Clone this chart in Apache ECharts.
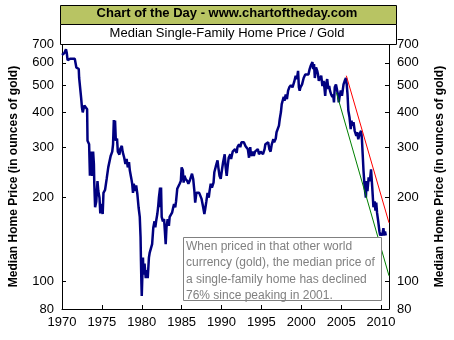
<!DOCTYPE html>
<html>
<head>
<meta charset="utf-8">
<script src="https://cdn.jsdelivr.net/npm/echarts@6/dist/echarts.min.js"></script>
<style>
  html, body { margin: 0; padding: 0; background: #fff; }
  #chart { width: 454px; height: 340px; }
</style>
</head>
<body>
<div id="chart"></div>
<script>
// Median single-family home price expressed in ounces of gold
const years = [
  1970.0, 1970.3, 1970.5, 1970.6, 1970.7, 1971.0, 1971.2, 1971.6, 1971.8, 1972.1,
  1972.15, 1972.3, 1972.4, 1972.5, 1972.6, 1972.8, 1973.0, 1973.15, 1973.2, 1973.4,
  1973.5, 1973.6, 1973.8, 1973.9, 1974.0, 1974.05, 1974.15, 1974.3, 1974.45, 1974.55,
  1974.7, 1974.8, 1975.0, 1975.1, 1975.2, 1975.4, 1975.6, 1975.8, 1975.9, 1976.1,
  1976.3, 1976.4, 1976.5, 1976.6, 1976.65, 1976.75, 1976.9, 1977.0, 1977.2, 1977.3,
  1977.5, 1977.6, 1977.8, 1977.95, 1978.1, 1978.25, 1978.4, 1978.5, 1978.7, 1978.8,
  1978.9, 1979.0, 1979.15, 1979.3, 1979.45, 1979.6, 1979.75, 1979.85, 1979.9, 1979.96,
  1980.0, 1980.08, 1980.15, 1980.22, 1980.35, 1980.5, 1980.6, 1980.75, 1980.9, 1981.0,
  1981.15, 1981.3, 1981.45, 1981.6, 1981.7, 1981.8, 1981.95, 1982.05, 1982.15, 1982.3,
  1982.35, 1982.42, 1982.5, 1982.65, 1982.8, 1982.9, 1983.0, 1983.1, 1983.25, 1983.4,
  1983.5, 1983.65, 1983.8, 1983.95, 1984.05, 1984.2, 1984.3, 1984.45, 1984.6, 1984.75,
  1984.9, 1985.0, 1985.15, 1985.25, 1985.35, 1985.5, 1985.7, 1985.85, 1986.0, 1986.15,
  1986.3, 1986.45, 1986.6, 1986.7, 1986.85, 1987.0, 1987.2, 1987.35, 1987.5, 1987.7,
  1987.85, 1987.95, 1988.1, 1988.25, 1988.4, 1988.5, 1988.65, 1988.8, 1989.0, 1989.1,
  1989.3, 1989.5, 1989.6, 1989.75, 1989.9, 1990.05, 1990.2, 1990.4, 1990.5, 1990.65,
  1990.8, 1990.9, 1991.1, 1991.2, 1991.4, 1991.55, 1991.7, 1991.9, 1992.0, 1992.2,
  1992.35, 1992.5, 1992.7, 1992.8, 1993.0, 1993.2, 1993.3, 1993.45, 1993.6, 1993.7,
  1993.9, 1994.05, 1994.2, 1994.4, 1994.55, 1994.7, 1994.9, 1995.0, 1995.2, 1995.4,
  1995.5, 1995.7, 1995.85, 1996.0, 1996.15, 1996.3, 1996.5, 1996.6, 1996.8, 1996.9,
  1997.05, 1997.2, 1997.3, 1997.45, 1997.55, 1997.7, 1997.8, 1997.9, 1998.05, 1998.2,
  1998.35, 1998.5, 1998.7, 1998.9, 1999.1, 1999.3, 1999.45, 1999.6, 1999.7, 1999.8,
  1999.9, 2000.1, 2000.3, 2000.5, 2000.7, 2000.9, 2001.05, 2001.2, 2001.4, 2001.5,
  2001.6, 2001.7, 2001.85, 2002.0, 2002.1, 2002.2, 2002.35, 2002.5, 2002.65, 2002.8,
  2002.9, 2003.0, 2003.1, 2003.25, 2003.4, 2003.5, 2003.6, 2003.75, 2003.9, 2004.0,
  2004.1, 2004.2, 2004.35, 2004.5, 2004.6, 2004.7, 2004.8, 2004.95, 2005.1, 2005.2,
  2005.3, 2005.45, 2005.6, 2005.7, 2005.8, 2005.9, 2006.05, 2006.2, 2006.3, 2006.4,
  2006.55, 2006.7, 2006.8, 2006.9, 2007.0, 2007.15, 2007.3, 2007.4, 2007.5, 2007.6,
  2007.7, 2007.8, 2007.95, 2008.1, 2008.2, 2008.3, 2008.45, 2008.6, 2008.75, 2008.85,
  2008.9, 2009.05, 2009.2, 2009.3, 2009.4, 2009.5, 2009.65, 2009.8, 2009.9, 2010.0,
  2010.15, 2010.3, 2010.4, 2010.5, 2010.6
];
const priceInGold = [
  640, 650, 670, 650, 614, 620, 625, 620, 578, 570,
  530, 525, 450, 417, 400, 423, 417, 410, 317, 308,
  238, 290, 238, 290, 262, 223, 184, 193, 228, 210,
  199, 175, 189, 174, 207, 212, 232, 255, 258, 280,
  290, 308, 376, 317, 374, 317, 323, 290, 283, 296,
  304, 290, 276, 262, 273, 255, 266, 249, 232, 223,
  207, 223, 210, 220, 205, 184, 170, 144, 119, 98,
  89, 106, 122, 106, 116, 103, 110, 103, 122, 127,
  125, 136, 156, 164, 156, 164, 174, 184, 199, 216,
  184, 216, 170, 164, 167, 151, 136, 156, 167, 158,
  170, 172, 176, 184, 189, 184, 193, 214, 216, 223,
  228, 255, 249, 225, 238, 232, 228, 223, 228, 235,
  242, 232, 210, 191, 207, 204, 207, 204, 197, 184,
  174, 181, 193, 207, 199, 210, 223, 216, 225, 245,
  258, 270, 255, 238, 232, 249, 266, 284, 258, 238,
  262, 276, 284, 273, 290, 287, 296, 287, 301, 308,
  301, 313, 308, 313, 304, 308, 296, 276, 301, 280,
  290, 280, 290, 287, 296, 284, 290, 287, 284, 296,
  308, 304, 313, 296, 290, 308, 321, 313, 323, 340,
  344, 359, 378, 401, 428, 434, 454, 440, 463, 446,
  478, 491, 500, 491, 512, 540, 525, 562, 491, 478,
  491, 503, 530, 545, 548, 545, 570, 587, 604, 570,
  594, 530, 578, 562, 545, 518, 530, 540, 496, 518,
  491, 458, 503, 525, 484, 496, 478, 463, 454, 463,
  434, 491, 503, 496, 463, 434, 454, 478, 458, 454,
  503, 518, 530, 503, 463, 406, 384, 349, 374, 359,
  369, 344, 349, 330, 340, 321, 335, 330, 344, 323,
  284, 249, 216, 199, 228, 210, 235, 228, 251, 249,
  216, 184, 193, 179, 191, 176, 164, 151, 146, 149,
  146, 155, 146, 151, 146
];

// Two trend lines drawn across the post-peak decline
const upperTrendYears = [2005.65, 2011];
const upperTrendValues = [540, 162];
const lowerTrendYears = [2004.4, 2011];
const lowerTrendValues = [471, 105];

// Axis ticks
const yTickValues = [80, 100, 200, 300, 400, 500, 600, 700];
const xTickValues = [1970, 1975, 1980, 1985, 1990, 1995, 2000, 2005, 2010];

const headerTitle = 'Chart of the Day - www.chartoftheday.com';
const chartTitle = 'Median Single-Family Home Price / Gold';
const axisTitle = 'Median Home Price (in ounces of gold)';
const noteLines = [
  'When priced in that other world',
  'currency (gold), the median price of',
  'a single-family home has declined',
  '76% since peaking in 2001.'
];

const FONT = '"Liberation Sans", Arial, sans-serif';
const zip = (xs, ys) => xs.map((x, i) => [x, ys[i]]);

function yAxisDef(position, gap) {
  return {
    type: 'log',
    logBase: 10,
    min: 80,
    max: 700,
    position: position,
    name: axisTitle,
    nameLocation: 'middle',
    nameGap: gap,
    nameRotate: 90,
    nameTextStyle: { fontFamily: FONT, fontSize: 12, fontWeight: 'bold', color: '#000' },
    axisLine: { show: true, lineStyle: { color: '#000', width: 1 } },
    axisTick: { show: true, inside: true, length: 4, customValues: yTickValues, lineStyle: { color: '#000' } },
    axisLabel: { customValues: yTickValues, fontFamily: FONT, fontSize: 13, color: '#000', margin: 8 },
    splitLine: { show: false },
    minorTick: { show: false }
  };
}

const chart = echarts.init(document.getElementById('chart'), null, { renderer: 'canvas' });
chart.setOption({
  animation: false,
  backgroundColor: '#fff',
  grid: { left: 60, right: 58, top: 44, bottom: 31, containLabel: false },
  xAxis: {
    type: 'value',
    min: 1970,
    max: 2011,
    axisLine: { show: true, onZero: false, lineStyle: { color: '#000', width: 1 } },
    axisTick: { show: true, inside: true, length: 4, customValues: xTickValues, lineStyle: { color: '#000' } },
    axisLabel: {
      customValues: xTickValues,
      formatter: (v) => String(Math.round(v)),
      fontFamily: FONT, fontSize: 13, color: '#000', margin: 7
    },
    splitLine: { show: false }
  },
  yAxis: [yAxisDef('left', 42), yAxisDef('right', 45)],
  graphic: [
    {
      type: 'rect', left: 60, top: 5, z: 10,
      shape: { width: 336, height: 19 },
      style: { fill: '#B8C463', stroke: '#000', lineWidth: 1 }
    },
    {
      type: 'text', left: 'center', top: 7, z: 11,
      style: { text: headerTitle, font: 'bold 13px ' + FONT, fill: '#000' }
    },
    {
      type: 'rect', left: 60, top: 24, z: 10,
      shape: { width: 336, height: 20 },
      style: { fill: '#fff', stroke: '#000', lineWidth: 1 }
    },
    {
      type: 'text', left: 'center', top: 27, z: 11,
      style: { text: chartTitle, font: '13px ' + FONT, fill: '#000' }
    },
    {
      type: 'rect', left: 183, top: 237, z: 10,
      shape: { width: 198, height: 63 },
      style: { fill: '#fff', stroke: '#808080', lineWidth: 1 }
    },
    {
      type: 'text', left: 186, top: 238, z: 11,
      style: { text: noteLines.join('\n'), font: '12px ' + FONT, fill: '#808080', lineHeight: 16.5 }
    }
  ],
  series: [
    {
      type: 'line',
      data: zip(years, priceInGold),
      showSymbol: false,
      lineStyle: { color: '#000080', width: 2.5 },
      z: 3
    },
    {
      type: 'line',
      data: zip(upperTrendYears, upperTrendValues),
      showSymbol: false,
      lineStyle: { color: '#ff0000', width: 1 },
      z: 4
    },
    {
      type: 'line',
      data: zip(lowerTrendYears, lowerTrendValues),
      showSymbol: false,
      lineStyle: { color: '#008000', width: 1 },
      z: 4
    }
  ]
});
</script>
</body>
</html>
